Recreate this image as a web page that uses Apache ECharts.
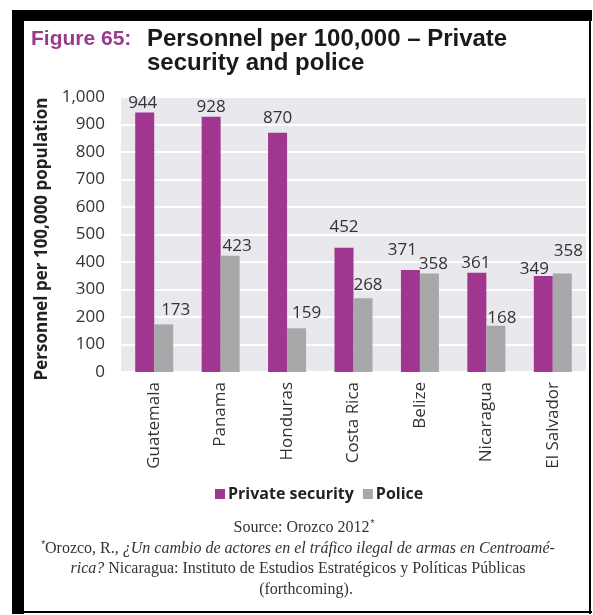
<!DOCTYPE html>
<html>
<head>
<meta charset="utf-8">
<script src="https://cdn.jsdelivr.net/npm/echarts@6/dist/echarts.min.js"></script>
<style>
  html, body { margin: 0; padding: 0; background: #fff; }
  #chart { width: 593px; height: 615px; }
</style>
</head>
<body>
<div id="chart"></div>
<script>
// 数据
const countries = ['Guatemala', 'Panama', 'Honduras', 'Costa Rica', 'Belize', 'Nicaragua', 'El Salvador'];
const privateSecurity = [944, 928, 870, 452, 371, 361, 349];
const police = [173, 423, 159, 268, 358, 168, 358];
const yTicks = [0, 100, 200, 300, 400, 500, 600, 700, 800, 900, 1000];

// 数值标签的微调（原图中标签为手动错开）
const privateLabelShift = [[-2, 0], [0, 0], [0, -5], [0, -11], [-8, -10], [-1, 0], [-9, 3]];
const policeLabelShift = [[12, -5], [7, 0], [10, -6], [5, -4], [4, 0], [6, 2], [6, -13]];

const purple = '#a0368f';
const grey = '#a7a8a9';
const serif = '"Liberation Serif", "DejaVu Serif", serif';
const valueLabel = { show: true, position: 'top', distance: 1, fontFamily: 'Open Sans', fontSize: 17, color: '#333' };

const chart = echarts.init(document.getElementById('chart'));

const option = {
  animation: false,
  backgroundColor: '#fff',
  grid: {
    left: 121, right: 7, top: 97, bottom: 243,
    show: true,
    backgroundColor: '#e9e8ed',
    borderWidth: 0
  },
  legend: {
    left: 210, top: 481,
    itemWidth: 10, itemHeight: 10, itemGap: 9,
    icon: 'rect',
    textStyle: { fontFamily: 'Open Sans', fontWeight: 'bold', fontSize: 16, color: '#222', padding: [0, 0, 0, -2] },
    data: ['Private security', 'Police']
  },
  xAxis: {
    type: 'category',
    data: countries,
    axisLine: { show: false },
    axisTick: { show: false },
    axisLabel: {
      rotate: 90, margin: 10, interval: 0,
      fontFamily: 'Open Sans', fontSize: 17, color: '#333'
    }
  },
  yAxis: {
    type: 'value',
    min: 0, max: yTicks[yTicks.length - 1], interval: 100,
    name: 'Personnel per 100,000 population',
    nameLocation: 'middle',
    nameGap: 62,
    nameTextStyle: { fontFamily: 'Open Sans', fontWeight: 'bold', fontSize: 17, color: '#222', padding: [0, 9, 0, 0] },
    axisLine: { show: false },
    axisTick: { show: false },
    splitLine: { lineStyle: { color: '#fff', width: 2 } },
    axisLabel: {
      margin: 16,
      fontFamily: 'Open Sans', fontSize: 17, color: '#333',
      formatter: v => v.toLocaleString('en-US')
    }
  },
  series: [
    {
      name: 'Private security',
      type: 'bar',
      data: privateSecurity.map((v, i) => ({ value: v, label: { offset: privateLabelShift[i] } })),
      barWidth: 19,
      barGap: '0%',
      itemStyle: { color: purple },
      label: valueLabel
    },
    {
      name: 'Police',
      type: 'bar',
      data: police.map((v, i) => ({ value: v, label: { offset: policeLabelShift[i] } })),
      barWidth: 19,
      itemStyle: { color: grey },
      label: valueLabel
    }
  ],
  graphic: [
    // 黑色边框
    { type: 'rect', shape: { x: 12, y: 10, width: 580, height: 11 }, style: { fill: '#000' } },
    { type: 'rect', shape: { x: 12, y: 10, width: 12, height: 604 }, style: { fill: '#000' } },
    { type: 'rect', shape: { x: 589, y: 10, width: 2, height: 604 }, style: { fill: '#000' } },
    { type: 'rect', shape: { x: 12, y: 611, width: 580, height: 2 }, style: { fill: '#000' } },
    // 标题
    {
      type: 'text', left: 31, top: 29,
      style: { text: 'Figure 65:', fill: '#9a3a8d', font: 'bold 21px "Liberation Sans", Arial, sans-serif' }
    },
    {
      type: 'text', left: 147, top: 27,
      style: {
        text: 'Personnel per 100,000 \u2013 Private\nsecurity and police',
        fill: '#1a1a1a', font: 'bold 24px "Liberation Sans", Arial, sans-serif', lineHeight: 24
      }
    },
    // 来源
    {
      type: 'text', x: 304, y: 528,
      style: {
        text: 'Source: Orozco 2012{sup|*}', align: 'center', verticalAlign: 'middle',
        fill: '#333', font: '16px ' + serif,
        rich: { sup: { fontSize: 10, fill: '#333', padding: [0, 0, 8, 1] } }
      }
    },
    {
      type: 'text', x: 298, y: 549,
      style: {
        text: '{sup|*}Orozco, R., {it|¿Un cambio de actores en el tráfico ilegal de armas en Centroamé-}',
        align: 'center', verticalAlign: 'middle',
        fill: '#333', font: '16px ' + serif,
        rich: {
          it: { fontStyle: 'italic', fontFamily: serif, fontSize: 16, fill: '#333' },
          sup: { fontSize: 10, fill: '#333', padding: [0, 0, 8, 0] }
        }
      }
    },
    {
      type: 'text', x: 298, y: 569,
      style: {
        text: '{it|rica?} Nicaragua: Instituto de Estudios Estratégicos y Políticas Públicas',
        align: 'center', verticalAlign: 'middle',
        fill: '#333', font: '16px ' + serif,
        rich: { it: { fontStyle: 'italic', fontFamily: serif, fontSize: 16, fill: '#333' } }
      }
    },
    {
      type: 'text', x: 306, y: 590,
      style: {
        text: '(forthcoming).', align: 'center', verticalAlign: 'middle',
        fill: '#333', font: '16px ' + serif
      }
    }
  ]
};

chart.setOption(option);
</script>
</body>
</html>
